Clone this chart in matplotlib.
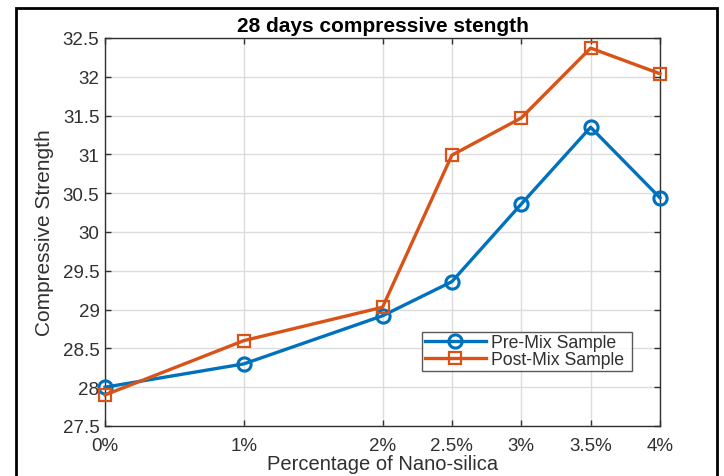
import matplotlib
matplotlib.use("Agg")
import matplotlib.pyplot as plt
from matplotlib.patches import Rectangle

plt.rcParams["font.family"] = ["Liberation Sans", "DejaVu Sans"]

# --- Data ---
nano_silica = [0, 1, 2, 2.5, 3, 3.5, 4]
tick_labels = ["0%", "1%", "2%", "2.5%", "3%", "3.5%", "4%"]
pre_mix = [28.0, 28.3, 28.92, 29.36, 30.36, 31.35, 30.44]
post_mix = [27.9, 28.6, 29.03, 30.99, 31.47, 32.37, 32.04]

BLUE = "#0072BD"
ORANGE = "#D95319"
TXT = "#303030"

fig = plt.figure(figsize=(7.24, 4.77), dpi=100)
ax = fig.add_axes([105 / 724, 1 - 427 / 477, 555 / 724, 388 / 477])

ax.plot(nano_silica, pre_mix, color=BLUE, lw=2.4, marker="o", ms=9.5,
        mfc="none", mew=2.2, label="Pre-Mix Sample", clip_on=False, zorder=3)
ax.plot(nano_silica, post_mix, color=ORANGE, lw=2.4, marker="s", ms=8,
        mfc="none", mew=1.6, label="Post-Mix Sample", clip_on=False, zorder=3)

ax.set_xlim(0, 4)
ax.set_ylim(27.5, 32.5)
ax.set_xticks(nano_silica)
ax.set_xticklabels(tick_labels)
ax.set_yticks([27.5 + 0.5 * i for i in range(11)])
ax.set_yticklabels(["27.5", "28", "28.5", "29", "29.5", "30", "30.5",
                    "31", "31.5", "32", "32.5"])
ax.grid(True, color="#dcdcdc", lw=1.0)
ax.set_axisbelow(True)
ax.tick_params(direction="in", top=True, right=True, length=4, width=1,
               colors=TXT, labelsize=13.5)
ax.tick_params(axis="x", pad=8)
ax.tick_params(axis="y", pad=4)
for s in ax.spines.values():
    s.set_color(TXT)
    s.set_linewidth(1.0)

ax.set_title("28 days compressive stength", fontsize=15, fontweight="bold",
             color="black", pad=5)
ax.set_xlabel("Percentage of Nano-silica", fontsize=14.5, color=TXT, labelpad=0)
ax.set_ylabel("Compressive Strength", fontsize=15, color=TXT, labelpad=6)

leg = ax.legend(loc="lower left", bbox_to_anchor=(0.571, 0.142, 0.379, 0.103),
                mode="expand", fontsize=12.7, frameon=True, fancybox=False,
                edgecolor=TXT, borderpad=0.15, labelspacing=0.0,
                handlelength=3.5, handletextpad=0.25, borderaxespad=0)
leg.get_frame().set_linewidth(1.0)
for t in leg.get_texts():
    t.set_color(TXT)

# outer frame around the whole picture
fig.patches.append(Rectangle((16 / 724, -0.05), 701 / 724, 1 - 9 / 477 + 0.05,
                             transform=fig.transFigure, fill=False,
                             edgecolor="black", lw=2.0))

fig.savefig("out.png", dpi=100)
